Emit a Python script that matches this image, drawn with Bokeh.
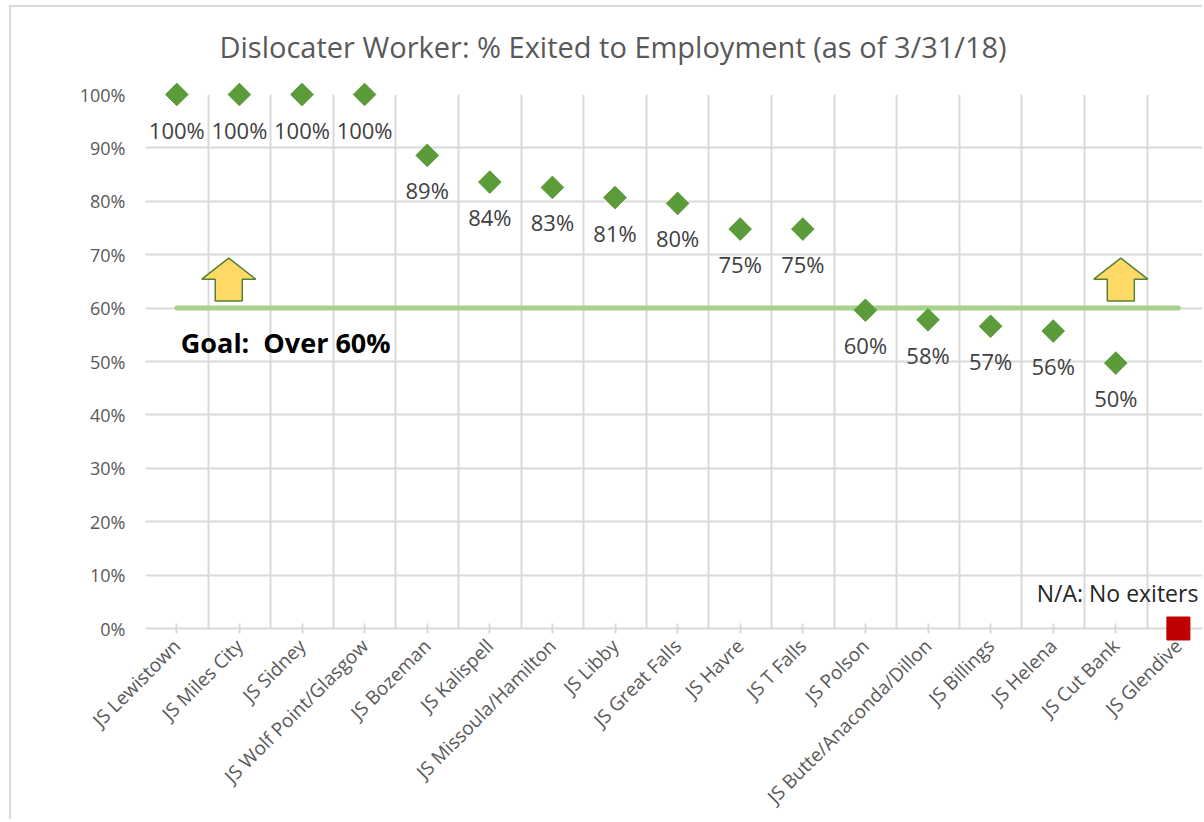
import math
from bokeh.plotting import figure
from bokeh.models import FixedTicker, NumeralTickFormatter, ColumnDataSource, LabelSet, Label
from bokeh.embed import file_html
from bokeh.resources import INLINE
from bokeh.core.properties import value

# ---------------- data ----------------
categories = ["JS Lewistown", "JS Miles City", "JS Sidney", "JS Wolf Point/Glasgow",
              "JS Bozeman", "JS Kalispell", "JS Missoula/Hamilton", "JS Libby",
              "JS Great Falls", "JS Havre", "JS T Falls", "JS Polson",
              "JS Butte/Anaconda/Dillon", "JS Billings", "JS Helena", "JS Cut Bank",
              "JS Glendive"]
pct_exited = [1.0, 1.0, 1.0, 1.0, 0.886, 0.836, 0.826, 0.807, 0.796, 0.748, 0.748,
              0.596, 0.578, 0.566, 0.557, 0.497, None]
no_exiters = ["JS Glendive"]
goal = 0.60
goal_text = "Goal:\u00a0 Over 60%"
na_text = "N/A: No exiters"
y_ticks = [0.0, 0.1, 0.2, 0.3, 0.4, 0.5, 0.6, 0.7, 0.8, 0.9, 1.0]
arrow_positions = [0.83, 15.08]   # category-axis positions of the two "up" arrows
title_text = "Dislocater Worker: % Exited to Employment (as of 3/31/18)"

FONT = "Open Sans"
GRID = "#d9d9d9"
TXT = "#595959"

n = len(categories)
idx = {c: i for i, c in enumerate(categories)}

pts = ColumnDataSource(dict(
    x=[i for i, v in enumerate(pct_exited) if v is not None],
    y=[v for v in pct_exited if v is not None],
    label=["{:.0f}%".format(v * 100) for v in pct_exited if v is not None],
))
na_src = ColumnDataSource(dict(x=[idx[c] for c in no_exiters], y=[0.0] * len(no_exiters)))

OFF_X, OFF_Y = 11, 7          # where the canvas starts on the page (after border/margin)
W, H = 1193, 814
ML, MR, MT, MB = 145 - OFF_X, 0, 94 - OFF_Y, 192
frame_w = W - ML - MR
frame_h = H - MT - MB
px_per_cat = 62.6
x_start = -0.5
x_end = x_start + frame_w / px_per_cat

p = figure(width=W, height=H, output_backend="svg", toolbar_location=None,
           x_range=(x_start, x_end), y_range=(0, 1),
           min_border_left=ML, min_border_right=MR, min_border_top=MT, min_border_bottom=MB,
           background_fill_color="white", border_fill_color="white")
p.outline_line_color = None
p.styles = {"margin-left": "9px", "margin-top": "5px",
            "border-left": "2px solid #d9d9d9", "border-top": "2px solid #d9d9d9"}

# title, drawn as unclipped text above the top-left corner of the plot area
p.text(x=[x_start], y=[1.0], text=[title_text], x_offset=74, y_offset=-48,
       text_align="left", text_baseline="middle", text_font=value(FONT),
       text_font_size="29px", text_color=TXT, level="overlay")

# grids
p.ygrid.ticker = FixedTicker(ticks=y_ticks)
p.xgrid.ticker = FixedTicker(ticks=[i - 0.5 for i in range(n + 1)])
for g in (p.xgrid, p.ygrid):
    g.grid_line_color = GRID
    g.grid_line_width = 2

# x axis
xa = p.xaxis[0]
xa.ticker = FixedTicker(ticks=list(range(n)))
xa.major_label_overrides = {i: c for i, c in enumerate(categories)}
xa.major_label_orientation = math.pi / 4
xa.axis_line_color = GRID
xa.axis_line_width = 2
xa.major_tick_in = 5
xa.major_tick_out = 5
xa.major_tick_line_color = GRID
xa.major_tick_line_width = 2
xa.minor_tick_line_color = None
xa.major_label_standoff = 9
xa.major_label_text_font = FONT
xa.major_label_text_font_size = "19px"
xa.major_label_text_color = TXT

# y axis
ya = p.yaxis[0]
ya.ticker = FixedTicker(ticks=y_ticks)
ya.formatter = NumeralTickFormatter(format="0%")
ya.axis_line_color = None
ya.major_tick_line_color = None
ya.minor_tick_line_color = None
ya.major_label_standoff = 14
ya.major_label_text_font = FONT
ya.major_label_text_font_size = "18px"
ya.major_label_text_color = TXT

# goal line
p.line(x=[0, n - 1], y=[goal, goal], line_color="#a9d18e", line_width=5, line_cap="round")

# up arrows (block arrows sitting on the goal line)
ux = 1.0 / px_per_cat
uy = 1.0 / frame_h
aw, ah, hh, sw, gap = 54, 43, 21, 27, 7
xs, ys = [], []
for ax in arrow_positions:
    b = goal + gap * uy
    sh = b + (ah - hh) * uy
    top = b + ah * uy
    xs.append([ax - sw / 2 * ux, ax + sw / 2 * ux, ax + sw / 2 * ux, ax + aw / 2 * ux,
               ax, ax - aw / 2 * ux, ax - sw / 2 * ux])
    ys.append([b, b, sh, sh, top, sh, sh])
p.patches(xs, ys, fill_color="#ffd966", line_color="#548235", line_width=1.5)

# data points
p.scatter(x="x", y="y", source=pts, marker="square", angle=math.pi / 4, size=16,
          fill_color="#5b9b3a", line_color="#5b9b3a", level="overlay")
p.add_layout(LabelSet(x="x", y="y", text="label", source=pts, text_align="center",
                      text_baseline="middle", y_offset=-35, text_font=value(FONT),
                      text_font_size="22px", text_color="#404040"))

# N/A marker
p.scatter(x="x", y="y", source=na_src, marker="square", size=23,
          fill_color="#c00000", line_color="#c00000", level="overlay")
p.add_layout(Label(x=idx[no_exiters[0]], y=0, x_offset=20, y_offset=36, text=na_text,
                   text_align="right", text_baseline="middle", text_font=FONT,
                   text_font_size="23px", text_color="#262626"))

# goal text
p.add_layout(Label(x=0, y=goal, x_offset=4, y_offset=-34, text=goal_text,
                   text_align="left", text_baseline="middle", text_font=FONT,
                   text_font_style="bold", text_font_size="27px", text_color="black"))

open("out.html", "w").write(file_html(p, INLINE))
